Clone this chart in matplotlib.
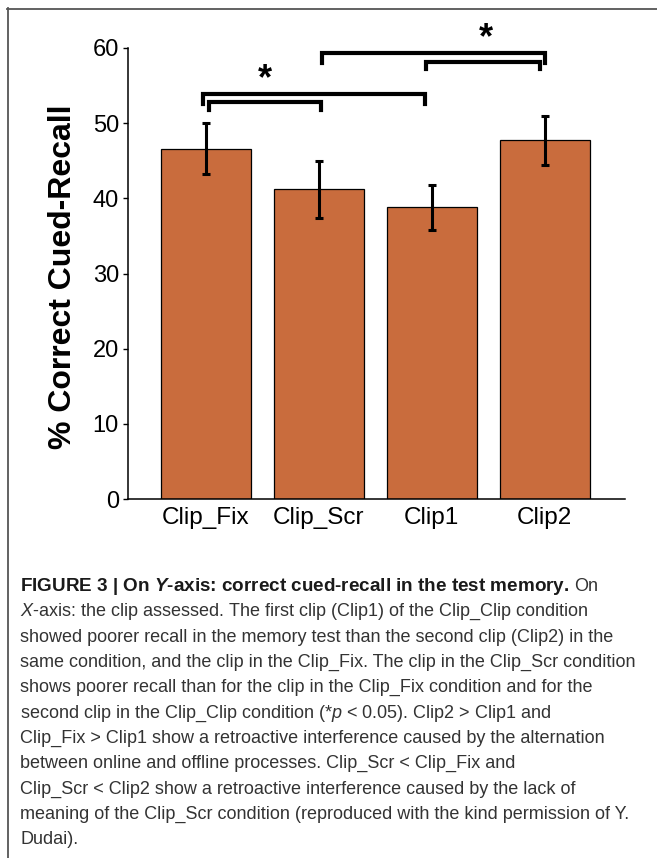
import numpy as np
import matplotlib
matplotlib.use("Agg")
import matplotlib.pyplot as plt
from matplotlib.lines import Line2D

plt.rcParams['font.family'] = ['Liberation Sans', 'DejaVu Sans']
plt.rcParams['mathtext.fontset'] = 'custom'
plt.rcParams['mathtext.rm'] = 'Liberation Sans'
plt.rcParams['mathtext.it'] = 'Liberation Sans:italic'
plt.rcParams['mathtext.bf'] = 'Liberation Sans:bold'
plt.rcParams['mathtext.bfit'] = 'Liberation Sans:italic:bold'

# data
categories = ['Clip_Fix', 'Clip_Scr', 'Clip1', 'Clip2']
recall = [46.6, 41.2, 38.8, 47.7]
err = [3.4, 3.8, 3.0, 3.3]
yticks = [0, 10, 20, 30, 40, 50, 60]

# significance brackets: (x_left, x_right, y_top, y_leg_end)
brackets = [(0.03, 1.02, 52.85, 51.7),
            (-0.03, 1.94, 53.85, 52.6),
            (1.03, 3.0, 59.3, 58.0),
            (1.95, 2.96, 58.2, 57.15)]
stars = [(0.52, 55.8), (2.48, 61.3)]

caption = [
    [("FIGURE 3 | On $\\mathbfit{Y}$-axis: correct cued-recall in the test memory.", 'bold'),
     ("On", 'normal')],
    [("$\\mathit{X}$-axis: the clip assessed. The first clip (Clip1) of the Clip_Clip condition", 'normal')],
    [("showed poorer recall in the memory test than the second clip (Clip2) in the", 'normal')],
    [("same condition, and the clip in the Clip_Fix. The clip in the Clip_Scr condition", 'normal')],
    [("shows poorer recall than for the clip in the Clip_Fix condition and for the", 'normal')],
    [("second clip in the Clip_Clip condition (*$\\mathit{p}$ < 0.05). Clip2 > Clip1 and", 'normal')],
    [("Clip_Fix > Clip1 show a retroactive interference caused by the alternation", 'normal')],
    [("between online and offline processes. Clip_Scr < Clip_Fix and", 'normal')],
    [("Clip_Scr < Clip2 show a retroactive interference caused by the lack of", 'normal')],
    [("meaning of the Clip_Scr condition (reproduced with the kind permission of Y.", 'normal')],
    [("Dudai).", 'normal')],
]

W, H = 657, 858
fig = plt.figure(figsize=(W / 100, H / 100), dpi=100)
fig.patch.set_facecolor('white')


def fx(x):
    return x / W


def fy(y):
    return 1 - y / H


# frame lines (top and left)
fig.add_artist(Line2D([fx(7), fx(W)], [fy(8.5), fy(8.5)], color='#555555', lw=1.3))
fig.add_artist(Line2D([fx(7.5), fx(7.5)], [fy(8), fy(H)], color='#555555', lw=1.3))

ax = fig.add_axes([fx(128), fy(499), (625 - 128) / W, (499 - 48) / H])
x = np.arange(len(categories))
ax.bar(x, recall, width=0.8, color='#C96C3D', edgecolor='black', linewidth=0.9, zorder=2)
ax.errorbar(x, recall, yerr=err, fmt='none', ecolor='black', elinewidth=2.2,
            capsize=2.6, capthick=2.2, zorder=3)

ax.set_xlim(-0.69, 3.71)
ax.set_ylim(0, 60)
ax.set_yticks(yticks)
ax.set_yticklabels([str(t) for t in yticks], fontsize=17)
ax.set_xticks(x)
ax.set_xticklabels(categories, fontsize=17.5)
ax.tick_params(axis='x', length=0, pad=6)
ax.tick_params(axis='y', direction='out', length=3.5, width=1, pad=3)
for s in ['top', 'right']:
    ax.spines[s].set_visible(False)
for s in ['left', 'bottom']:
    ax.spines[s].set_linewidth(1.1)

for x1, x2, yt, yl in brackets:
    ax.plot([x1, x1, x2, x2], [yl, yt, yt, yl], color='black', lw=3,
            solid_joinstyle='miter', clip_on=False, zorder=4)
for sx, sy in stars:
    ax.text(sx, sy, '*', ha='center', va='center', fontsize=26, fontweight='bold',
            clip_on=False)

fig.text(fx(63), fy(277), '% Correct Cued-Recall', rotation=90, ha='center', va='center',
         fontsize=23, fontweight='bold')

# caption
renderer = fig.canvas.get_renderer()
base = 591
step = 25.3
for i, segs in enumerate(caption):
    xpos = 20
    for txt, wt in segs:
        bold = wt == 'bold'
        t = fig.text(fx(xpos), fy(base + i * step), txt, fontsize=13.6 if bold else 13,
                     fontweight=wt, color='#1a1a1a' if bold else '#333333',
                     va='baseline', ha='left')
        bb = t.get_window_extent(renderer)
        xpos += bb.width + 5

fig.savefig('out.png', dpi=100)
